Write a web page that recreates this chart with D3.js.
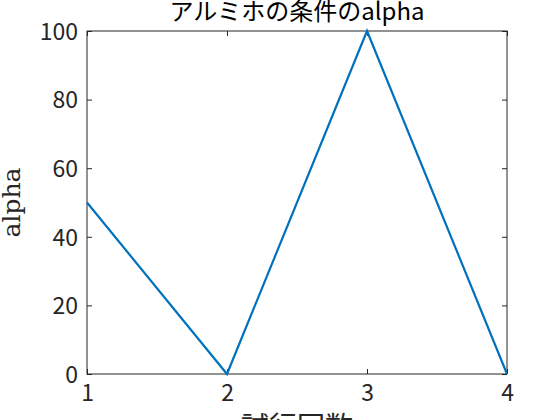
<!DOCTYPE html>
<html><head><meta charset="utf-8">
<script src="https://cdn.jsdelivr.net/npm/d3@7"></script>
<style>body{margin:0;background:#fff}svg{display:block}</style>
</head><body>
<script>
const trials = [1, 2, 3, 4];
const alphaValues = [50, 0, 100, 0];
const xTicks = [1, 2, 3, 4];
const yTicks = [0, 20, 40, 60, 80, 100];
const titleText = "アルミホの条件のalpha";
const xLabel = "試行回数";
const yLabel = "alpha";

const W = 560, H = 420;
const m = {left: 87, right: 53, top: 31, bottom: 46};
const svg = d3.select("body").append("svg").attr("width", W).attr("height", H);
const x = d3.scaleLinear().domain([1, 4]).range([m.left, W - m.right]);
const y = d3.scaleLinear().domain([0, 100]).range([H - m.bottom, m.top]);
const font = "'Noto Sans CJK JP', sans-serif";
const tl = 5;
const cx = (m.left + W - m.right) / 2;

function styleAxis(g) {
  g.select(".domain").remove();
  g.selectAll("line").attr("stroke", "#262626");
  g.selectAll("text").attr("font-family", font).attr("font-size", 23).attr("fill", "#262626");
}
svg.append("g").attr("transform", `translate(0,${H - m.bottom})`)
  .call(d3.axisBottom(x).tickValues(xTicks).tickFormat(d3.format("d")).tickSizeInner(-tl).tickPadding(11))
  .call(styleAxis);
svg.append("g").attr("transform", `translate(0,${m.top})`)
  .call(d3.axisTop(x).tickValues(xTicks).tickFormat("").tickSizeInner(-tl))
  .call(styleAxis);
svg.append("g").attr("transform", `translate(${m.left},0)`)
  .call(d3.axisLeft(y).tickValues(yTicks).tickSizeInner(-tl).tickPadding(9))
  .call(styleAxis)
  .call(g => g.selectAll("text").attr("dy", "0.36em"));
svg.append("g").attr("transform", `translate(${W - m.right},0)`)
  .call(d3.axisRight(y).tickValues(yTicks).tickFormat("").tickSizeInner(-tl))
  .call(styleAxis);

svg.append("rect").attr("x", m.left).attr("y", m.top)
  .attr("width", W - m.left - m.right).attr("height", H - m.top - m.bottom)
  .attr("fill", "none").attr("stroke", "#262626").attr("stroke-width", 1);

const line = d3.line().x((d, i) => x(trials[i])).y(d => y(d));
svg.append("path").datum(alphaValues).attr("d", line)
  .attr("fill", "none").attr("stroke", "#0072BD").attr("stroke-width", 2.2)
  .attr("stroke-linejoin", "miter");

svg.append("text").attr("x", cx).attr("y", 20)
  .attr("text-anchor", "middle").attr("font-family", font).attr("font-size", 24)
  .attr("fill", "#000").text(titleText);
svg.append("text").attr("x", cx).attr("y", 437)
  .attr("text-anchor", "middle").attr("font-family", font).attr("font-size", 28)
  .attr("fill", "#262626").text(xLabel);
svg.append("text").attr("transform", `translate(20,${(m.top + H - m.bottom) / 2}) rotate(-90)`)
  .attr("text-anchor", "middle").attr("font-family", "'DejaVu Serif', serif").attr("font-size", 25)
  .attr("fill", "#262626").text(yLabel);
</script>
</body></html>
